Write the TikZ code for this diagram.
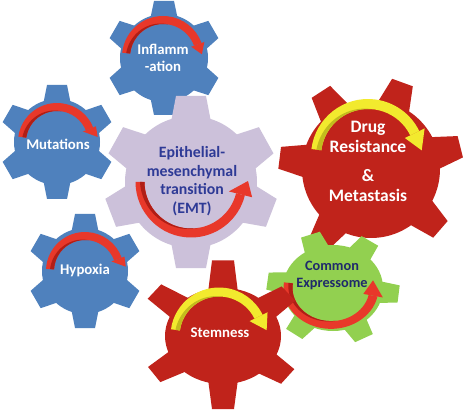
\documentclass[tikz,border=0pt]{standalone}
\usepackage{fontspec}
\setmainfont{Carlito}
\definecolor{gblue}{HTML}{4F81BD}
\definecolor{gred}{HTML}{C0231B}
\definecolor{glav}{HTML}{CCC1DA}
\definecolor{ggreen}{HTML}{92D050}
\definecolor{redarrmain}{HTML}{E8382A}
\definecolor{redarrdark}{HTML}{B01E16}
\definecolor{yelarrmain}{HTML}{F2EA2E}
\definecolor{yelarrdark}{HTML}{C2BC1E}
\definecolor{emtblue}{HTML}{2E3A96}
\definecolor{comblue}{HTML}{1F2A6B}
% #1 centre x,y  #2 yscale  #3 body radius  #4 base half width  #5 top half width  #6 colour  #7 tooth list angle/outer radius
\newcommand\drawgear[7]{%
  \begin{scope}[shift={(#1)}, yscale=#2]
    \fill[#6] (0,0) circle[radius=#3];
    \foreach \a/\rr in {#7} {\fill[#6, rotate=\a] ({#3-6},-#4) -- (\rr,-#5) -- (\rr,#5) -- ({#3-6},#4) -- cycle;}
  \end{scope}}
% #1 centre  #2 yscale  #3 radius  #4 width  #5 start angle  #6 end angle  #7 tip (ang:rad)  #8 head half width  #9 colour prefix
\newcommand\bentarrow[9]{%
  \begin{scope}[shift={(#1)}, yscale=#2]
    \fill[#9main] (#5:{#3+#4/2}) arc[start angle=#5, end angle=#6, radius={#3+#4/2}]
      -- (#6:{#3-#4/2}) arc[start angle=#6, end angle=#5, radius={#3-#4/2}] -- cycle;
    \fill[#9dark] plot[domain=0:1, samples=24, variable=\t] ({#5+0.6*(#6-#5)*\t}:{#3-#4/2+0.5*#4*(1-\t)})
      arc[start angle={#5+0.6*(#6-#5)}, end angle=#5, radius={#3-#4/2}] -- cycle;
    \fill[#9main] (#6:{#3+#8}) -- (#7) -- (#6:{#3-#8}) -- cycle;
  \end{scope}}
\tikzset{
  wlbl/.style={text=white, font=\bfseries\fontsize{14.8}{17}\selectfont, inner sep=0pt, text height=9.5pt, text depth=0pt},
  emtlbl/.style={text=emtblue, font=\bfseries\fontsize{15.8}{18}\selectfont, inner sep=0pt, text height=10.2pt, text depth=0pt},
  druglbl/.style={text=white, font=\bfseries\fontsize{17.5}{20}\selectfont, inner sep=0pt, text height=11.3pt, text depth=0pt},
  comlbl/.style={text=comblue, font=\bfseries\fontsize{14.3}{17}\selectfont, inner sep=0pt, text height=9.2pt, text depth=0pt}
}
\begin{document}
\begin{tikzpicture}[x=1pt,y=1pt]
\fill[white] (0,0) rectangle (463,410);
\useasboundingbox (0,0) rectangle (463,410);
% Inflammation
\drawgear{164,352}{1}{44}{14}{10}{gblue}{30/57,90/57,150/57,210/57,270/57,330/57}
\bentarrow{163,353}{1}{37}{8}{174}{20}{4:39}{7}{redarr}
\node[wlbl] (infl1) at (163,360) {Inflamm};
\node[wlbl] (infl2) at (163,343.5) {-ation};
% Mutations
\drawgear{57,268}{1}{43}{14}{10}{gblue}{30/57,90/57,150/57,210/57,270/57,330/57}
\bentarrow{57,268}{1}{35}{8}{172}{22}{7:41}{7}{redarr}
\node[wlbl] (mut) at (58,265) {Mutations};
% Hypoxia
\drawgear{85,139}{1}{43}{14}{10}{gblue}{30/57,90/57,150/57,210/57,270/57,330/57}
\bentarrow{85,139}{1}{35}{8}{177}{20}{6:41}{7}{redarr}
\node[wlbl] (hyp) at (85,140) {Hypoxia};
% EMT
\drawgear{191,228}{1}{66}{20}{15}{glav}{90/86,29/86,-21/86,-90/86,-159/86,151/86}
\bentarrow{191,228}{1}{51}{9}{180}{346}{361:57}{12}{redarr}
\node[emtlbl] (emt1) at (192,258) {Epithelial-};
\node[emtlbl] (emt2) at (192,239) {mesenchymal};
\node[emtlbl] (emt3) at (192,221) {transition};
\node[emtlbl] (emt4) at (192,202) {(EMT)};
% Drug resistance
\drawgear{371,241}{1}{69}{17}{11}{gred}{14/92,70/92,123/92,173/92,235/92,319/92}
\bentarrow{368,254}{1}{52}{10}{173}{26}{6:54}{11}{yelarr}
\node[druglbl] (drug1) at (368,283) {Drug};
\node[druglbl] (drug2) at (368,263) {Resistance};
\node[druglbl] (drug3) at (368,234) {\&};
\node[druglbl] (drug4) at (368,214) {Metastasis};
% Common expressome
\drawgear{333,122}{0.86}{50}{13}{10}{ggreen}{-62/66,-6/66,56/66,110/66,173/66,234/66}
\bentarrow{331,122}{0.86}{43}{9}{172}{348}{372:43}{10}{redarr}
\node[comlbl] (com1) at (332,144) {Common};
\node[comlbl] (com2) at (332,127) {Expressome};
% Stemness
\drawgear{223,74}{0.83}{58}{15}{11}{gred}{90/91,38/83,-37/81,-90/88,-146/83,142/87}
\bentarrow{219,74}{1}{44}{9}{172}{26}{7:48}{10}{yelarr}
\node[wlbl] (stem) at (220,77) {Stemness};
\end{tikzpicture}
\end{document}
